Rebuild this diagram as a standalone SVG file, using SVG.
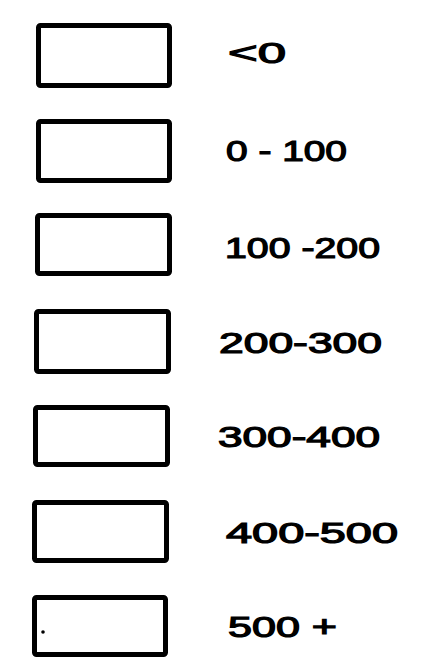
<svg xmlns="http://www.w3.org/2000/svg" width="433" height="658" viewBox="0 0 433 658">
<style>
.box{fill:#fff;stroke:#000;stroke-width:5;stroke-linejoin:round}
.lbl{font-family:"Liberation Sans",Arial,sans-serif;font-size:29px;fill:#000;stroke:#000;stroke-width:1.2;lengthAdjust:spacingAndGlyphs}
</style>
<rect width="433" height="658" fill="#fff"/>
<g id="node1"><rect class="box" x="38.5" y="25.5" width="131" height="60" rx="2"/><text class="lbl" x="228" y="63" textLength="58" lengthAdjust="spacingAndGlyphs">&lt;0</text></g>
<g id="node2"><rect class="box" x="38.5" y="121.5" width="131" height="59" rx="2"/><text class="lbl" x="226" y="161" textLength="121" lengthAdjust="spacingAndGlyphs">0 - 100</text></g>
<g id="node3"><rect class="box" x="37.5" y="215.5" width="132" height="58" rx="2"/><text class="lbl" x="225" y="258" textLength="155" lengthAdjust="spacingAndGlyphs">100 -200</text></g>
<g id="node4"><rect class="box" x="36.5" y="311.5" width="132" height="60" rx="2"/><text class="lbl" x="219" y="353" textLength="163" lengthAdjust="spacingAndGlyphs">200-300</text></g>
<g id="node5"><rect class="box" x="35.5" y="407.5" width="132" height="57" rx="2"/><text class="lbl" x="218" y="447" textLength="162" lengthAdjust="spacingAndGlyphs">300-400</text></g>
<g id="node6"><rect class="box" x="34.5" y="502.5" width="132" height="58" rx="2"/><text class="lbl" x="226" y="543" textLength="172" lengthAdjust="spacingAndGlyphs">400-500</text></g>
<g id="node7"><rect class="box" x="34.5" y="597.5" width="131" height="57" rx="2"/><circle cx="43" cy="632" r="1.8" fill="#000"/><text class="lbl" x="228" y="637" textLength="109" lengthAdjust="spacingAndGlyphs">500 +</text></g>
<g id="connectors"></g>
</svg>
